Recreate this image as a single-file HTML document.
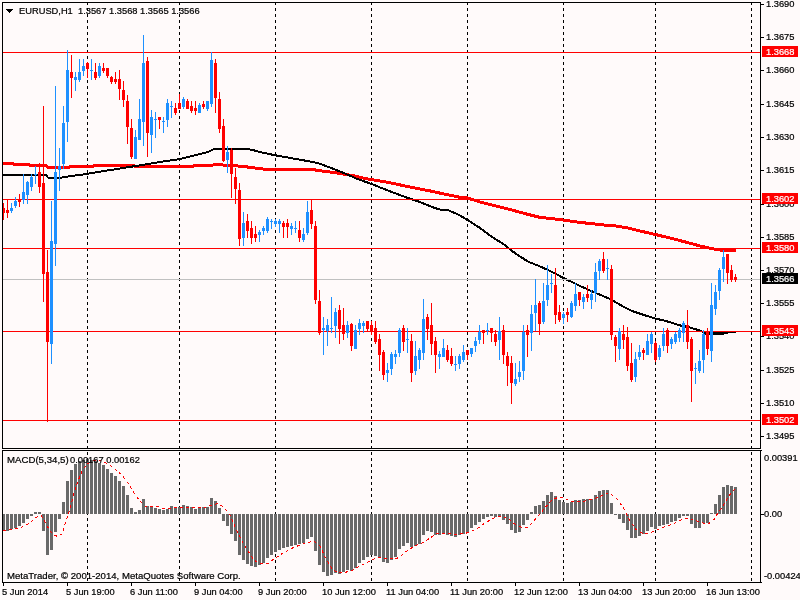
<!DOCTYPE html><html><head><meta charset="utf-8"><title>EURUSD,H1</title><style>
html,body{margin:0;padding:0;background:#fff;}body{width:800px;height:600px;overflow:hidden;}
svg{display:block;}text{font-family:"Liberation Sans",Arial,sans-serif;font-size:9.8px;fill:#000;stroke:#000;stroke-width:0.22px;}
.w{fill:#fff;stroke:#fff;}
</style></head><body>
<svg width="800" height="600" viewBox="0 0 800 600">
<rect x="0" y="0" width="800" height="600" fill="#FFFAFA"/>
<g shape-rendering="crispEdges">
<path d="M87.5 3V5M87.5 8V11M87.5 14V17M87.5 20V23M87.5 26V29M87.5 32V35M87.5 38V41M87.5 44V47M87.5 50V53M87.5 56V59M87.5 62V65M87.5 68V71M87.5 74V77M87.5 80V83M87.5 86V89M87.5 92V95M87.5 98V101M87.5 104V107M87.5 110V113M87.5 116V119M87.5 122V125M87.5 128V131M87.5 134V137M87.5 140V143M87.5 146V149M87.5 152V155M87.5 158V161M87.5 164V167M87.5 170V173M87.5 176V179M87.5 182V185M87.5 188V191M87.5 194V197M87.5 200V203M87.5 206V209M87.5 212V215M87.5 218V221M87.5 224V227M87.5 230V233M87.5 236V239M87.5 242V245M87.5 248V251M87.5 254V257M87.5 260V263M87.5 266V269M87.5 272V275M87.5 278V281M87.5 284V287M87.5 290V293M87.5 296V299M87.5 302V305M87.5 308V311M87.5 314V317M87.5 320V323M87.5 326V329M87.5 332V335M87.5 338V341M87.5 344V347M87.5 350V353M87.5 356V359M87.5 362V365M87.5 368V371M87.5 374V377M87.5 380V383M87.5 386V389M87.5 392V395M87.5 398V401M87.5 404V407M87.5 410V413M87.5 416V419M87.5 422V425M87.5 428V431M87.5 434V437M87.5 440V443M87.5 446V448M87.5 452V455M87.5 458V461M87.5 464V467M87.5 470V473M87.5 476V479M87.5 482V485M87.5 488V491M87.5 494V497M87.5 500V503M87.5 506V509M87.5 512V515M87.5 518V521M87.5 524V527M87.5 530V533M87.5 536V539M87.5 542V545M87.5 548V551M87.5 554V557M87.5 560V563M87.5 566V569M87.5 572V575M87.5 578V581" stroke="#000" stroke-width="1" fill="none"/>
<path d="M179.5 3V5M179.5 8V11M179.5 14V17M179.5 20V23M179.5 26V29M179.5 32V35M179.5 38V41M179.5 44V47M179.5 50V53M179.5 56V59M179.5 62V65M179.5 68V71M179.5 74V77M179.5 80V83M179.5 86V89M179.5 92V95M179.5 98V101M179.5 104V107M179.5 110V113M179.5 116V119M179.5 122V125M179.5 128V131M179.5 134V137M179.5 140V143M179.5 146V149M179.5 152V155M179.5 158V161M179.5 164V167M179.5 170V173M179.5 176V179M179.5 182V185M179.5 188V191M179.5 194V197M179.5 200V203M179.5 206V209M179.5 212V215M179.5 218V221M179.5 224V227M179.5 230V233M179.5 236V239M179.5 242V245M179.5 248V251M179.5 254V257M179.5 260V263M179.5 266V269M179.5 272V275M179.5 278V281M179.5 284V287M179.5 290V293M179.5 296V299M179.5 302V305M179.5 308V311M179.5 314V317M179.5 320V323M179.5 326V329M179.5 332V335M179.5 338V341M179.5 344V347M179.5 350V353M179.5 356V359M179.5 362V365M179.5 368V371M179.5 374V377M179.5 380V383M179.5 386V389M179.5 392V395M179.5 398V401M179.5 404V407M179.5 410V413M179.5 416V419M179.5 422V425M179.5 428V431M179.5 434V437M179.5 440V443M179.5 446V448M179.5 452V455M179.5 458V461M179.5 464V467M179.5 470V473M179.5 476V479M179.5 482V485M179.5 488V491M179.5 494V497M179.5 500V503M179.5 506V509M179.5 512V515M179.5 518V521M179.5 524V527M179.5 530V533M179.5 536V539M179.5 542V545M179.5 548V551M179.5 554V557M179.5 560V563M179.5 566V569M179.5 572V575M179.5 578V581" stroke="#000" stroke-width="1" fill="none"/>
<path d="M275.5 3V5M275.5 8V11M275.5 14V17M275.5 20V23M275.5 26V29M275.5 32V35M275.5 38V41M275.5 44V47M275.5 50V53M275.5 56V59M275.5 62V65M275.5 68V71M275.5 74V77M275.5 80V83M275.5 86V89M275.5 92V95M275.5 98V101M275.5 104V107M275.5 110V113M275.5 116V119M275.5 122V125M275.5 128V131M275.5 134V137M275.5 140V143M275.5 146V149M275.5 152V155M275.5 158V161M275.5 164V167M275.5 170V173M275.5 176V179M275.5 182V185M275.5 188V191M275.5 194V197M275.5 200V203M275.5 206V209M275.5 212V215M275.5 218V221M275.5 224V227M275.5 230V233M275.5 236V239M275.5 242V245M275.5 248V251M275.5 254V257M275.5 260V263M275.5 266V269M275.5 272V275M275.5 278V281M275.5 284V287M275.5 290V293M275.5 296V299M275.5 302V305M275.5 308V311M275.5 314V317M275.5 320V323M275.5 326V329M275.5 332V335M275.5 338V341M275.5 344V347M275.5 350V353M275.5 356V359M275.5 362V365M275.5 368V371M275.5 374V377M275.5 380V383M275.5 386V389M275.5 392V395M275.5 398V401M275.5 404V407M275.5 410V413M275.5 416V419M275.5 422V425M275.5 428V431M275.5 434V437M275.5 440V443M275.5 446V448M275.5 452V455M275.5 458V461M275.5 464V467M275.5 470V473M275.5 476V479M275.5 482V485M275.5 488V491M275.5 494V497M275.5 500V503M275.5 506V509M275.5 512V515M275.5 518V521M275.5 524V527M275.5 530V533M275.5 536V539M275.5 542V545M275.5 548V551M275.5 554V557M275.5 560V563M275.5 566V569M275.5 572V575M275.5 578V581" stroke="#000" stroke-width="1" fill="none"/>
<path d="M371.5 3V5M371.5 8V11M371.5 14V17M371.5 20V23M371.5 26V29M371.5 32V35M371.5 38V41M371.5 44V47M371.5 50V53M371.5 56V59M371.5 62V65M371.5 68V71M371.5 74V77M371.5 80V83M371.5 86V89M371.5 92V95M371.5 98V101M371.5 104V107M371.5 110V113M371.5 116V119M371.5 122V125M371.5 128V131M371.5 134V137M371.5 140V143M371.5 146V149M371.5 152V155M371.5 158V161M371.5 164V167M371.5 170V173M371.5 176V179M371.5 182V185M371.5 188V191M371.5 194V197M371.5 200V203M371.5 206V209M371.5 212V215M371.5 218V221M371.5 224V227M371.5 230V233M371.5 236V239M371.5 242V245M371.5 248V251M371.5 254V257M371.5 260V263M371.5 266V269M371.5 272V275M371.5 278V281M371.5 284V287M371.5 290V293M371.5 296V299M371.5 302V305M371.5 308V311M371.5 314V317M371.5 320V323M371.5 326V329M371.5 332V335M371.5 338V341M371.5 344V347M371.5 350V353M371.5 356V359M371.5 362V365M371.5 368V371M371.5 374V377M371.5 380V383M371.5 386V389M371.5 392V395M371.5 398V401M371.5 404V407M371.5 410V413M371.5 416V419M371.5 422V425M371.5 428V431M371.5 434V437M371.5 440V443M371.5 446V448M371.5 452V455M371.5 458V461M371.5 464V467M371.5 470V473M371.5 476V479M371.5 482V485M371.5 488V491M371.5 494V497M371.5 500V503M371.5 506V509M371.5 512V515M371.5 518V521M371.5 524V527M371.5 530V533M371.5 536V539M371.5 542V545M371.5 548V551M371.5 554V557M371.5 560V563M371.5 566V569M371.5 572V575M371.5 578V581" stroke="#000" stroke-width="1" fill="none"/>
<path d="M467.5 3V5M467.5 8V11M467.5 14V17M467.5 20V23M467.5 26V29M467.5 32V35M467.5 38V41M467.5 44V47M467.5 50V53M467.5 56V59M467.5 62V65M467.5 68V71M467.5 74V77M467.5 80V83M467.5 86V89M467.5 92V95M467.5 98V101M467.5 104V107M467.5 110V113M467.5 116V119M467.5 122V125M467.5 128V131M467.5 134V137M467.5 140V143M467.5 146V149M467.5 152V155M467.5 158V161M467.5 164V167M467.5 170V173M467.5 176V179M467.5 182V185M467.5 188V191M467.5 194V197M467.5 200V203M467.5 206V209M467.5 212V215M467.5 218V221M467.5 224V227M467.5 230V233M467.5 236V239M467.5 242V245M467.5 248V251M467.5 254V257M467.5 260V263M467.5 266V269M467.5 272V275M467.5 278V281M467.5 284V287M467.5 290V293M467.5 296V299M467.5 302V305M467.5 308V311M467.5 314V317M467.5 320V323M467.5 326V329M467.5 332V335M467.5 338V341M467.5 344V347M467.5 350V353M467.5 356V359M467.5 362V365M467.5 368V371M467.5 374V377M467.5 380V383M467.5 386V389M467.5 392V395M467.5 398V401M467.5 404V407M467.5 410V413M467.5 416V419M467.5 422V425M467.5 428V431M467.5 434V437M467.5 440V443M467.5 446V448M467.5 452V455M467.5 458V461M467.5 464V467M467.5 470V473M467.5 476V479M467.5 482V485M467.5 488V491M467.5 494V497M467.5 500V503M467.5 506V509M467.5 512V515M467.5 518V521M467.5 524V527M467.5 530V533M467.5 536V539M467.5 542V545M467.5 548V551M467.5 554V557M467.5 560V563M467.5 566V569M467.5 572V575M467.5 578V581" stroke="#000" stroke-width="1" fill="none"/>
<path d="M563.5 3V5M563.5 8V11M563.5 14V17M563.5 20V23M563.5 26V29M563.5 32V35M563.5 38V41M563.5 44V47M563.5 50V53M563.5 56V59M563.5 62V65M563.5 68V71M563.5 74V77M563.5 80V83M563.5 86V89M563.5 92V95M563.5 98V101M563.5 104V107M563.5 110V113M563.5 116V119M563.5 122V125M563.5 128V131M563.5 134V137M563.5 140V143M563.5 146V149M563.5 152V155M563.5 158V161M563.5 164V167M563.5 170V173M563.5 176V179M563.5 182V185M563.5 188V191M563.5 194V197M563.5 200V203M563.5 206V209M563.5 212V215M563.5 218V221M563.5 224V227M563.5 230V233M563.5 236V239M563.5 242V245M563.5 248V251M563.5 254V257M563.5 260V263M563.5 266V269M563.5 272V275M563.5 278V281M563.5 284V287M563.5 290V293M563.5 296V299M563.5 302V305M563.5 308V311M563.5 314V317M563.5 320V323M563.5 326V329M563.5 332V335M563.5 338V341M563.5 344V347M563.5 350V353M563.5 356V359M563.5 362V365M563.5 368V371M563.5 374V377M563.5 380V383M563.5 386V389M563.5 392V395M563.5 398V401M563.5 404V407M563.5 410V413M563.5 416V419M563.5 422V425M563.5 428V431M563.5 434V437M563.5 440V443M563.5 446V448M563.5 452V455M563.5 458V461M563.5 464V467M563.5 470V473M563.5 476V479M563.5 482V485M563.5 488V491M563.5 494V497M563.5 500V503M563.5 506V509M563.5 512V515M563.5 518V521M563.5 524V527M563.5 530V533M563.5 536V539M563.5 542V545M563.5 548V551M563.5 554V557M563.5 560V563M563.5 566V569M563.5 572V575M563.5 578V581" stroke="#000" stroke-width="1" fill="none"/>
<path d="M655.5 3V5M655.5 8V11M655.5 14V17M655.5 20V23M655.5 26V29M655.5 32V35M655.5 38V41M655.5 44V47M655.5 50V53M655.5 56V59M655.5 62V65M655.5 68V71M655.5 74V77M655.5 80V83M655.5 86V89M655.5 92V95M655.5 98V101M655.5 104V107M655.5 110V113M655.5 116V119M655.5 122V125M655.5 128V131M655.5 134V137M655.5 140V143M655.5 146V149M655.5 152V155M655.5 158V161M655.5 164V167M655.5 170V173M655.5 176V179M655.5 182V185M655.5 188V191M655.5 194V197M655.5 200V203M655.5 206V209M655.5 212V215M655.5 218V221M655.5 224V227M655.5 230V233M655.5 236V239M655.5 242V245M655.5 248V251M655.5 254V257M655.5 260V263M655.5 266V269M655.5 272V275M655.5 278V281M655.5 284V287M655.5 290V293M655.5 296V299M655.5 302V305M655.5 308V311M655.5 314V317M655.5 320V323M655.5 326V329M655.5 332V335M655.5 338V341M655.5 344V347M655.5 350V353M655.5 356V359M655.5 362V365M655.5 368V371M655.5 374V377M655.5 380V383M655.5 386V389M655.5 392V395M655.5 398V401M655.5 404V407M655.5 410V413M655.5 416V419M655.5 422V425M655.5 428V431M655.5 434V437M655.5 440V443M655.5 446V448M655.5 452V455M655.5 458V461M655.5 464V467M655.5 470V473M655.5 476V479M655.5 482V485M655.5 488V491M655.5 494V497M655.5 500V503M655.5 506V509M655.5 512V515M655.5 518V521M655.5 524V527M655.5 530V533M655.5 536V539M655.5 542V545M655.5 548V551M655.5 554V557M655.5 560V563M655.5 566V569M655.5 572V575M655.5 578V581" stroke="#000" stroke-width="1" fill="none"/>
<path d="M751.5 3V5M751.5 8V11M751.5 14V17M751.5 20V23M751.5 26V29M751.5 32V35M751.5 38V41M751.5 44V47M751.5 50V53M751.5 56V59M751.5 62V65M751.5 68V71M751.5 74V77M751.5 80V83M751.5 86V89M751.5 92V95M751.5 98V101M751.5 104V107M751.5 110V113M751.5 116V119M751.5 122V125M751.5 128V131M751.5 134V137M751.5 140V143M751.5 146V149M751.5 152V155M751.5 158V161M751.5 164V167M751.5 170V173M751.5 176V179M751.5 182V185M751.5 188V191M751.5 194V197M751.5 200V203M751.5 206V209M751.5 212V215M751.5 218V221M751.5 224V227M751.5 230V233M751.5 236V239M751.5 242V245M751.5 248V251M751.5 254V257M751.5 260V263M751.5 266V269M751.5 272V275M751.5 278V281M751.5 284V287M751.5 290V293M751.5 296V299M751.5 302V305M751.5 308V311M751.5 314V317M751.5 320V323M751.5 326V329M751.5 332V335M751.5 338V341M751.5 344V347M751.5 350V353M751.5 356V359M751.5 362V365M751.5 368V371M751.5 374V377M751.5 380V383M751.5 386V389M751.5 392V395M751.5 398V401M751.5 404V407M751.5 410V413M751.5 416V419M751.5 422V425M751.5 428V431M751.5 434V437M751.5 440V443M751.5 446V448M751.5 452V455M751.5 458V461M751.5 464V467M751.5 470V473M751.5 476V479M751.5 482V485M751.5 488V491M751.5 494V497M751.5 500V503M751.5 506V509M751.5 512V515M751.5 518V521M751.5 524V527M751.5 530V533M751.5 536V539M751.5 542V545M751.5 548V551M751.5 554V557M751.5 560V563M751.5 566V569M751.5 572V575M751.5 578V581" stroke="#000" stroke-width="1" fill="none"/>
</g>
<polyline points="3,163.5 13,163.5 14,164.5 29,164.5 30,165.5 46,165.5 48,167.5 69,167.5 70,166.5 93,166.5 94,165.5 134,165.5 135,166.5 193,166.5 194,165.5 212,165.5 214,164.5 222,164.5 224,165.5 237,165.5 239,166.5 245,166.5 250,167.5 260,168.5 266,169.5 313,169.5 318,170.5 326,171.5 334,172.5 340,173.5 347,174.6 355,176 360,177.5 371.6,179.6 384,181.6 396,184 408,186.6 420,189 432,191.3 444,194 460,197.3 467.6,198 480,202 496,206 512,210 528,214.4 540,217.4 552,218.6 563,220 580,222.4 604,225 612,225.4 626,227.6 640,231 655.6,234.6 670,238 684,241.6 700,246 712,248.6 720,250 736,250" fill="none" stroke="#f00" stroke-width="3" stroke-linejoin="round" shape-rendering="crispEdges"/>
<polyline points="3,175 46,175 48,177.5 62,177.5 63,176.5 68,176.5 70,176 80,175 100,171.7 120,168.5 140,165.3 160,162 180,159 195,155.25 208,152 213,149.5 217,148.5 246,148.5 255,150.6 260,152 275,155.25 290,157.9 305,160.6 318,163.1 330,167.5 345,173.5 356,178.4 371.6,184 384,189 396,193.6 408,198 420,202 432,207 440,209.6 448,210.2 456,213.6 460,215.5 467.6,220 480,228 492,237 504,244.4 512,251 520,256.4 528,261.6 540,266.4 548,270 552,272 563.6,278 580,286 596,293 610,299 624,307 632,311 644,315 655.6,318.6 666,321 680,325.4 688,327 693,328.5 700,330.5 705,333 723,333.5 728,332.5 736,332" fill="none" stroke="#000" stroke-width="2" stroke-linejoin="round" shape-rendering="crispEdges"/>
<rect x="704" y="332" width="20" height="3" fill="#000" shape-rendering="crispEdges"/>
<g shape-rendering="crispEdges">
<rect x="3" y="52" width="757" height="1" fill="#f00"/>
<rect x="3" y="199" width="757" height="1" fill="#f00"/>
<rect x="3" y="248" width="757" height="1" fill="#f00"/>
<rect x="3" y="279" width="757" height="1" fill="#c0c0c0"/>
<rect x="3" y="331" width="757" height="1" fill="#f00"/>
<rect x="3" y="420" width="757" height="1" fill="#f00"/>
<rect x="3" y="203" width="1" height="17" fill="#f00"/><rect x="2" y="208" width="3" height="5" fill="#f00"/>
<rect x="7" y="199" width="1" height="19" fill="#f00"/><rect x="6" y="210" width="3" height="3" fill="#f00"/>
<rect x="11" y="203" width="1" height="10" fill="#1e90ff"/><rect x="10" y="208" width="3" height="3" fill="#1e90ff"/>
<rect x="15" y="197" width="1" height="11" fill="#1e90ff"/><rect x="14" y="201" width="3" height="5" fill="#1e90ff"/>
<rect x="19" y="194" width="1" height="13" fill="#f00"/><rect x="18" y="199" width="3" height="3" fill="#f00"/>
<rect x="23" y="174" width="1" height="30" fill="#1e90ff"/><rect x="22" y="192" width="3" height="8" fill="#1e90ff"/>
<rect x="27" y="181" width="1" height="23" fill="#1e90ff"/><rect x="26" y="182" width="3" height="13" fill="#1e90ff"/>
<rect x="31" y="174" width="1" height="17" fill="#1e90ff"/><rect x="30" y="177" width="3" height="10" fill="#1e90ff"/>
<rect x="35" y="166" width="1" height="18" fill="#1e90ff"/><rect x="34" y="174" width="3" height="1" fill="#1e90ff"/>
<rect x="39" y="163" width="1" height="30" fill="#f00"/><rect x="38" y="172" width="3" height="15" fill="#f00"/>
<rect x="43" y="106" width="1" height="196" fill="#f00"/><rect x="42" y="183" width="3" height="91" fill="#f00"/>
<rect x="47" y="250" width="1" height="172" fill="#f00"/><rect x="46" y="272" width="3" height="70" fill="#f00"/>
<rect x="51" y="201" width="1" height="163" fill="#1e90ff"/><rect x="50" y="241" width="3" height="103" fill="#1e90ff"/>
<rect x="55" y="86" width="1" height="180" fill="#1e90ff"/><rect x="54" y="172" width="3" height="72" fill="#1e90ff"/>
<rect x="59" y="148" width="1" height="43" fill="#1e90ff"/><rect x="58" y="166" width="3" height="4" fill="#1e90ff"/>
<rect x="63" y="106" width="1" height="63" fill="#1e90ff"/><rect x="62" y="123" width="3" height="41" fill="#1e90ff"/>
<rect x="67" y="50" width="1" height="92" fill="#1e90ff"/><rect x="66" y="70" width="3" height="52" fill="#1e90ff"/>
<rect x="71" y="55" width="1" height="43" fill="#f00"/><rect x="70" y="72" width="3" height="6" fill="#f00"/>
<rect x="75" y="72" width="1" height="19" fill="#1e90ff"/><rect x="74" y="77" width="3" height="3" fill="#1e90ff"/>
<rect x="79" y="59" width="1" height="23" fill="#1e90ff"/><rect x="78" y="72" width="3" height="8" fill="#1e90ff"/>
<rect x="83" y="59" width="1" height="17" fill="#1e90ff"/><rect x="82" y="66" width="3" height="5" fill="#1e90ff"/>
<rect x="87" y="62" width="1" height="16" fill="#f00"/><rect x="86" y="63" width="3" height="6" fill="#f00"/>
<rect x="91" y="59" width="1" height="21" fill="#1e90ff"/><rect x="90" y="70" width="3" height="1" fill="#1e90ff"/>
<rect x="95" y="63" width="1" height="17" fill="#f00"/><rect x="94" y="72" width="3" height="6" fill="#f00"/>
<rect x="99" y="63" width="1" height="15" fill="#1e90ff"/><rect x="98" y="66" width="3" height="10" fill="#1e90ff"/>
<rect x="103" y="63" width="1" height="10" fill="#f00"/><rect x="102" y="68" width="3" height="3" fill="#f00"/>
<rect x="107" y="68" width="1" height="10" fill="#f00"/><rect x="106" y="68" width="3" height="8" fill="#f00"/>
<rect x="111" y="76" width="1" height="8" fill="#f00"/><rect x="110" y="77" width="3" height="5" fill="#f00"/>
<rect x="115" y="72" width="1" height="12" fill="#f00"/><rect x="114" y="79" width="3" height="3" fill="#f00"/>
<rect x="119" y="70" width="1" height="30" fill="#f00"/><rect x="118" y="79" width="3" height="10" fill="#f00"/>
<rect x="123" y="81" width="1" height="26" fill="#f00"/><rect x="122" y="90" width="3" height="10" fill="#f00"/>
<rect x="127" y="95" width="1" height="49" fill="#f00"/><rect x="126" y="101" width="3" height="26" fill="#f00"/>
<rect x="131" y="119" width="1" height="40" fill="#f00"/><rect x="130" y="128" width="3" height="29" fill="#f00"/>
<rect x="135" y="130" width="1" height="29" fill="#1e90ff"/><rect x="134" y="137" width="3" height="22" fill="#1e90ff"/>
<rect x="139" y="99" width="1" height="41" fill="#1e90ff"/><rect x="138" y="119" width="3" height="21" fill="#1e90ff"/>
<rect x="143" y="35" width="1" height="111" fill="#1e90ff"/><rect x="142" y="63" width="3" height="59" fill="#1e90ff"/>
<rect x="147" y="57" width="1" height="100" fill="#f00"/><rect x="146" y="61" width="3" height="72" fill="#f00"/>
<rect x="151" y="110" width="1" height="43" fill="#1e90ff"/><rect x="150" y="117" width="3" height="18" fill="#1e90ff"/>
<rect x="155" y="112" width="1" height="26" fill="#1e90ff"/><rect x="154" y="119" width="3" height="1" fill="#1e90ff"/>
<rect x="159" y="117" width="1" height="12" fill="#f00"/><rect x="158" y="117" width="3" height="3" fill="#f00"/>
<rect x="163" y="117" width="1" height="16" fill="#1e90ff"/><rect x="162" y="121" width="3" height="1" fill="#1e90ff"/>
<rect x="167" y="99" width="1" height="28" fill="#1e90ff"/><rect x="166" y="103" width="3" height="17" fill="#1e90ff"/>
<rect x="171" y="101" width="1" height="17" fill="#1e90ff"/><rect x="170" y="106" width="3" height="1" fill="#1e90ff"/>
<rect x="175" y="103" width="1" height="12" fill="#f00"/><rect x="174" y="108" width="3" height="5" fill="#f00"/>
<rect x="179" y="94" width="1" height="15" fill="#f00"/><rect x="178" y="103" width="3" height="6" fill="#f00"/>
<rect x="183" y="97" width="1" height="12" fill="#1e90ff"/><rect x="182" y="99" width="3" height="8" fill="#1e90ff"/>
<rect x="187" y="99" width="1" height="10" fill="#f00"/><rect x="186" y="101" width="3" height="8" fill="#f00"/>
<rect x="191" y="101" width="1" height="12" fill="#f00"/><rect x="190" y="106" width="3" height="5" fill="#f00"/>
<rect x="195" y="101" width="1" height="14" fill="#f00"/><rect x="194" y="108" width="3" height="3" fill="#f00"/>
<rect x="199" y="103" width="1" height="10" fill="#1e90ff"/><rect x="198" y="105" width="3" height="8" fill="#1e90ff"/>
<rect x="203" y="101" width="1" height="8" fill="#f00"/><rect x="202" y="104" width="3" height="3" fill="#f00"/>
<rect x="207" y="101" width="1" height="10" fill="#1e90ff"/><rect x="206" y="101" width="3" height="8" fill="#1e90ff"/>
<rect x="211" y="52" width="1" height="55" fill="#1e90ff"/><rect x="210" y="60" width="3" height="44" fill="#1e90ff"/>
<rect x="215" y="59" width="1" height="54" fill="#f00"/><rect x="214" y="63" width="3" height="35" fill="#f00"/>
<rect x="219" y="92" width="1" height="41" fill="#f00"/><rect x="218" y="99" width="3" height="30" fill="#f00"/>
<rect x="223" y="119" width="1" height="43" fill="#f00"/><rect x="222" y="126" width="3" height="35" fill="#f00"/>
<rect x="227" y="146" width="1" height="27" fill="#1e90ff"/><rect x="226" y="152" width="3" height="8" fill="#1e90ff"/>
<rect x="231" y="148" width="1" height="50" fill="#f00"/><rect x="230" y="150" width="3" height="24" fill="#f00"/>
<rect x="235" y="168" width="1" height="36" fill="#f00"/><rect x="234" y="177" width="3" height="12" fill="#f00"/>
<rect x="239" y="183" width="1" height="63" fill="#f00"/><rect x="238" y="190" width="3" height="49" fill="#f00"/>
<rect x="243" y="212" width="1" height="34" fill="#1e90ff"/><rect x="242" y="223" width="3" height="15" fill="#1e90ff"/>
<rect x="247" y="214" width="1" height="24" fill="#f00"/><rect x="246" y="221" width="3" height="10" fill="#f00"/>
<rect x="251" y="221" width="1" height="23" fill="#f00"/><rect x="250" y="228" width="3" height="10" fill="#f00"/>
<rect x="255" y="226" width="1" height="16" fill="#f00"/><rect x="254" y="234" width="3" height="4" fill="#f00"/>
<rect x="259" y="230" width="1" height="12" fill="#1e90ff"/><rect x="258" y="232" width="3" height="3" fill="#1e90ff"/>
<rect x="263" y="226" width="1" height="9" fill="#1e90ff"/><rect x="262" y="228" width="3" height="3" fill="#1e90ff"/>
<rect x="267" y="217" width="1" height="16" fill="#1e90ff"/><rect x="266" y="219" width="3" height="12" fill="#1e90ff"/>
<rect x="271" y="219" width="1" height="10" fill="#1e90ff"/><rect x="270" y="221" width="3" height="1" fill="#1e90ff"/>
<rect x="275" y="219" width="1" height="8" fill="#1e90ff"/><rect x="274" y="221" width="3" height="3" fill="#1e90ff"/>
<rect x="279" y="219" width="1" height="14" fill="#1e90ff"/><rect x="278" y="221" width="3" height="3" fill="#1e90ff"/>
<rect x="283" y="221" width="1" height="17" fill="#f00"/><rect x="282" y="223" width="3" height="4" fill="#f00"/>
<rect x="287" y="219" width="1" height="19" fill="#f00"/><rect x="286" y="223" width="3" height="4" fill="#f00"/>
<rect x="291" y="223" width="1" height="12" fill="#1e90ff"/><rect x="290" y="226" width="3" height="3" fill="#1e90ff"/>
<rect x="295" y="221" width="1" height="12" fill="#1e90ff"/><rect x="294" y="228" width="3" height="1" fill="#1e90ff"/>
<rect x="299" y="221" width="1" height="21" fill="#f00"/><rect x="298" y="230" width="3" height="8" fill="#f00"/>
<rect x="303" y="228" width="1" height="14" fill="#1e90ff"/><rect x="302" y="234" width="3" height="6" fill="#1e90ff"/>
<rect x="307" y="201" width="1" height="34" fill="#1e90ff"/><rect x="306" y="212" width="3" height="21" fill="#1e90ff"/>
<rect x="311" y="199" width="1" height="30" fill="#f00"/><rect x="310" y="210" width="3" height="14" fill="#f00"/>
<rect x="315" y="221" width="1" height="83" fill="#f00"/><rect x="314" y="226" width="3" height="74" fill="#f00"/>
<rect x="319" y="290" width="1" height="45" fill="#f00"/><rect x="318" y="301" width="3" height="32" fill="#f00"/>
<rect x="323" y="317" width="1" height="38" fill="#1e90ff"/><rect x="322" y="328" width="3" height="2" fill="#1e90ff"/>
<rect x="327" y="319" width="1" height="27" fill="#1e90ff"/><rect x="326" y="325" width="3" height="6" fill="#1e90ff"/>
<rect x="331" y="297" width="1" height="36" fill="#1e90ff"/><rect x="330" y="328" width="3" height="1" fill="#1e90ff"/>
<rect x="335" y="308" width="1" height="30" fill="#1e90ff"/><rect x="334" y="312" width="3" height="14" fill="#1e90ff"/>
<rect x="339" y="305" width="1" height="39" fill="#f00"/><rect x="338" y="310" width="3" height="19" fill="#f00"/>
<rect x="343" y="308" width="1" height="32" fill="#f00"/><rect x="342" y="325" width="3" height="9" fill="#f00"/>
<rect x="347" y="321" width="1" height="17" fill="#1e90ff"/><rect x="346" y="325" width="3" height="8" fill="#1e90ff"/>
<rect x="351" y="323" width="1" height="28" fill="#f00"/><rect x="350" y="324" width="3" height="22" fill="#f00"/>
<rect x="355" y="325" width="1" height="24" fill="#1e90ff"/><rect x="354" y="330" width="3" height="19" fill="#1e90ff"/>
<rect x="359" y="319" width="1" height="16" fill="#1e90ff"/><rect x="358" y="323" width="3" height="6" fill="#1e90ff"/>
<rect x="363" y="321" width="1" height="12" fill="#1e90ff"/><rect x="362" y="323" width="3" height="3" fill="#1e90ff"/>
<rect x="367" y="321" width="1" height="11" fill="#f00"/><rect x="366" y="321" width="3" height="8" fill="#f00"/>
<rect x="371" y="321" width="1" height="14" fill="#f00"/><rect x="370" y="325" width="3" height="6" fill="#f00"/>
<rect x="375" y="321" width="1" height="23" fill="#f00"/><rect x="374" y="328" width="3" height="14" fill="#f00"/>
<rect x="379" y="334" width="1" height="37" fill="#f00"/><rect x="378" y="339" width="3" height="16" fill="#f00"/>
<rect x="383" y="350" width="1" height="30" fill="#f00"/><rect x="382" y="352" width="3" height="23" fill="#f00"/>
<rect x="387" y="363" width="1" height="19" fill="#1e90ff"/><rect x="386" y="370" width="3" height="3" fill="#1e90ff"/>
<rect x="391" y="352" width="1" height="23" fill="#1e90ff"/><rect x="390" y="354" width="3" height="15" fill="#1e90ff"/>
<rect x="395" y="350" width="1" height="14" fill="#1e90ff"/><rect x="394" y="354" width="3" height="3" fill="#1e90ff"/>
<rect x="399" y="328" width="1" height="29" fill="#1e90ff"/><rect x="398" y="330" width="3" height="23" fill="#1e90ff"/>
<rect x="403" y="325" width="1" height="26" fill="#f00"/><rect x="402" y="328" width="3" height="14" fill="#f00"/>
<rect x="407" y="328" width="1" height="25" fill="#1e90ff"/><rect x="406" y="339" width="3" height="1" fill="#1e90ff"/>
<rect x="411" y="334" width="1" height="48" fill="#f00"/><rect x="410" y="341" width="3" height="32" fill="#f00"/>
<rect x="415" y="341" width="1" height="34" fill="#1e90ff"/><rect x="414" y="356" width="3" height="15" fill="#1e90ff"/>
<rect x="419" y="348" width="1" height="21" fill="#1e90ff"/><rect x="418" y="350" width="3" height="10" fill="#1e90ff"/>
<rect x="423" y="299" width="1" height="61" fill="#1e90ff"/><rect x="422" y="319" width="3" height="34" fill="#1e90ff"/>
<rect x="427" y="314" width="1" height="26" fill="#f00"/><rect x="426" y="317" width="3" height="12" fill="#f00"/>
<rect x="431" y="303" width="1" height="52" fill="#f00"/><rect x="430" y="325" width="3" height="19" fill="#f00"/>
<rect x="435" y="337" width="1" height="36" fill="#f00"/><rect x="434" y="341" width="3" height="14" fill="#f00"/>
<rect x="439" y="351" width="1" height="18" fill="#1e90ff"/><rect x="438" y="354" width="3" height="3" fill="#1e90ff"/>
<rect x="443" y="339" width="1" height="18" fill="#1e90ff"/><rect x="442" y="348" width="3" height="9" fill="#1e90ff"/>
<rect x="447" y="345" width="1" height="17" fill="#f00"/><rect x="446" y="350" width="3" height="10" fill="#f00"/>
<rect x="451" y="348" width="1" height="18" fill="#f00"/><rect x="450" y="356" width="3" height="8" fill="#f00"/>
<rect x="455" y="356" width="1" height="15" fill="#1e90ff"/><rect x="454" y="364" width="3" height="1" fill="#1e90ff"/>
<rect x="459" y="354" width="1" height="15" fill="#1e90ff"/><rect x="458" y="356" width="3" height="8" fill="#1e90ff"/>
<rect x="463" y="345" width="1" height="17" fill="#1e90ff"/><rect x="462" y="352" width="3" height="8" fill="#1e90ff"/>
<rect x="467" y="350" width="1" height="10" fill="#f00"/><rect x="466" y="350" width="3" height="5" fill="#f00"/>
<rect x="471" y="348" width="1" height="9" fill="#1e90ff"/><rect x="470" y="348" width="3" height="6" fill="#1e90ff"/>
<rect x="475" y="337" width="1" height="15" fill="#1e90ff"/><rect x="474" y="341" width="3" height="5" fill="#1e90ff"/>
<rect x="479" y="325" width="1" height="19" fill="#1e90ff"/><rect x="478" y="332" width="3" height="8" fill="#1e90ff"/>
<rect x="483" y="330" width="1" height="14" fill="#f00"/><rect x="482" y="330" width="3" height="3" fill="#f00"/>
<rect x="487" y="323" width="1" height="12" fill="#1e90ff"/><rect x="486" y="330" width="3" height="1" fill="#1e90ff"/>
<rect x="491" y="328" width="1" height="14" fill="#f00"/><rect x="490" y="328" width="3" height="5" fill="#f00"/>
<rect x="495" y="330" width="1" height="16" fill="#f00"/><rect x="494" y="334" width="3" height="8" fill="#f00"/>
<rect x="499" y="317" width="1" height="43" fill="#1e90ff"/><rect x="498" y="331" width="3" height="9" fill="#1e90ff"/>
<rect x="503" y="325" width="1" height="39" fill="#f00"/><rect x="502" y="330" width="3" height="25" fill="#f00"/>
<rect x="507" y="352" width="1" height="34" fill="#f00"/><rect x="506" y="356" width="3" height="10" fill="#f00"/>
<rect x="511" y="356" width="1" height="48" fill="#f00"/><rect x="510" y="363" width="3" height="20" fill="#f00"/>
<rect x="515" y="363" width="1" height="23" fill="#1e90ff"/><rect x="514" y="379" width="3" height="5" fill="#1e90ff"/>
<rect x="519" y="361" width="1" height="21" fill="#1e90ff"/><rect x="518" y="372" width="3" height="5" fill="#1e90ff"/>
<rect x="523" y="325" width="1" height="55" fill="#1e90ff"/><rect x="522" y="332" width="3" height="39" fill="#1e90ff"/>
<rect x="527" y="325" width="1" height="32" fill="#f00"/><rect x="526" y="330" width="3" height="5" fill="#f00"/>
<rect x="531" y="305" width="1" height="46" fill="#1e90ff"/><rect x="530" y="314" width="3" height="19" fill="#1e90ff"/>
<rect x="535" y="279" width="1" height="52" fill="#1e90ff"/><rect x="534" y="305" width="3" height="8" fill="#1e90ff"/>
<rect x="539" y="301" width="1" height="34" fill="#f00"/><rect x="538" y="303" width="3" height="21" fill="#f00"/>
<rect x="543" y="283" width="1" height="41" fill="#1e90ff"/><rect x="542" y="301" width="3" height="21" fill="#1e90ff"/>
<rect x="547" y="265" width="1" height="41" fill="#1e90ff"/><rect x="546" y="285" width="3" height="15" fill="#1e90ff"/>
<rect x="551" y="274" width="1" height="19" fill="#1e90ff"/><rect x="550" y="283" width="3" height="1" fill="#1e90ff"/>
<rect x="555" y="268" width="1" height="56" fill="#f00"/><rect x="554" y="285" width="3" height="30" fill="#f00"/>
<rect x="559" y="305" width="1" height="17" fill="#f00"/><rect x="558" y="312" width="3" height="8" fill="#f00"/>
<rect x="563" y="312" width="1" height="12" fill="#1e90ff"/><rect x="562" y="314" width="3" height="4" fill="#1e90ff"/>
<rect x="567" y="308" width="1" height="14" fill="#f00"/><rect x="566" y="312" width="3" height="3" fill="#f00"/>
<rect x="571" y="301" width="1" height="17" fill="#1e90ff"/><rect x="570" y="303" width="3" height="14" fill="#1e90ff"/>
<rect x="575" y="283" width="1" height="28" fill="#1e90ff"/><rect x="574" y="294" width="3" height="12" fill="#1e90ff"/>
<rect x="579" y="292" width="1" height="14" fill="#f00"/><rect x="578" y="292" width="3" height="8" fill="#f00"/>
<rect x="583" y="294" width="1" height="15" fill="#1e90ff"/><rect x="582" y="297" width="3" height="5" fill="#1e90ff"/>
<rect x="587" y="285" width="1" height="17" fill="#f00"/><rect x="586" y="294" width="3" height="4" fill="#f00"/>
<rect x="591" y="290" width="1" height="19" fill="#1e90ff"/><rect x="590" y="294" width="3" height="6" fill="#1e90ff"/>
<rect x="595" y="263" width="1" height="39" fill="#1e90ff"/><rect x="594" y="272" width="3" height="21" fill="#1e90ff"/>
<rect x="599" y="259" width="1" height="21" fill="#1e90ff"/><rect x="598" y="261" width="3" height="10" fill="#1e90ff"/>
<rect x="603" y="252" width="1" height="21" fill="#f00"/><rect x="602" y="259" width="3" height="12" fill="#f00"/>
<rect x="607" y="259" width="1" height="21" fill="#1e90ff"/><rect x="606" y="268" width="3" height="1" fill="#1e90ff"/>
<rect x="611" y="265" width="1" height="75" fill="#f00"/><rect x="610" y="269" width="3" height="66" fill="#f00"/>
<rect x="615" y="335" width="1" height="27" fill="#f00"/><rect x="614" y="337" width="3" height="9" fill="#f00"/>
<rect x="619" y="328" width="1" height="32" fill="#1e90ff"/><rect x="618" y="331" width="3" height="18" fill="#1e90ff"/>
<rect x="623" y="325" width="1" height="24" fill="#f00"/><rect x="622" y="334" width="3" height="6" fill="#f00"/>
<rect x="627" y="327" width="1" height="44" fill="#f00"/><rect x="626" y="337" width="3" height="29" fill="#f00"/>
<rect x="631" y="343" width="1" height="39" fill="#f00"/><rect x="630" y="363" width="3" height="17" fill="#f00"/>
<rect x="635" y="352" width="1" height="30" fill="#1e90ff"/><rect x="634" y="359" width="3" height="18" fill="#1e90ff"/>
<rect x="639" y="345" width="1" height="15" fill="#1e90ff"/><rect x="638" y="352" width="3" height="5" fill="#1e90ff"/>
<rect x="643" y="348" width="1" height="12" fill="#f00"/><rect x="642" y="350" width="3" height="3" fill="#f00"/>
<rect x="647" y="334" width="1" height="21" fill="#1e90ff"/><rect x="646" y="341" width="3" height="14" fill="#1e90ff"/>
<rect x="651" y="332" width="1" height="21" fill="#1e90ff"/><rect x="650" y="334" width="3" height="10" fill="#1e90ff"/>
<rect x="655" y="341" width="1" height="21" fill="#f00"/><rect x="654" y="343" width="3" height="17" fill="#f00"/>
<rect x="659" y="345" width="1" height="15" fill="#1e90ff"/><rect x="658" y="348" width="3" height="9" fill="#1e90ff"/>
<rect x="663" y="328" width="1" height="23" fill="#1e90ff"/><rect x="662" y="334" width="3" height="12" fill="#1e90ff"/>
<rect x="667" y="328" width="1" height="25" fill="#f00"/><rect x="666" y="330" width="3" height="16" fill="#f00"/>
<rect x="671" y="337" width="1" height="12" fill="#1e90ff"/><rect x="670" y="339" width="3" height="5" fill="#1e90ff"/>
<rect x="675" y="332" width="1" height="12" fill="#1e90ff"/><rect x="674" y="334" width="3" height="8" fill="#1e90ff"/>
<rect x="679" y="328" width="1" height="14" fill="#1e90ff"/><rect x="678" y="330" width="3" height="8" fill="#1e90ff"/>
<rect x="683" y="321" width="1" height="21" fill="#1e90ff"/><rect x="682" y="323" width="3" height="10" fill="#1e90ff"/>
<rect x="687" y="310" width="1" height="39" fill="#f00"/><rect x="686" y="325" width="3" height="17" fill="#f00"/>
<rect x="691" y="337" width="1" height="65" fill="#f00"/><rect x="690" y="339" width="3" height="32" fill="#f00"/>
<rect x="695" y="363" width="1" height="21" fill="#1e90ff"/><rect x="694" y="368" width="3" height="1" fill="#1e90ff"/>
<rect x="699" y="350" width="1" height="23" fill="#1e90ff"/><rect x="698" y="361" width="3" height="10" fill="#1e90ff"/>
<rect x="703" y="330" width="1" height="43" fill="#1e90ff"/><rect x="702" y="334" width="3" height="26" fill="#1e90ff"/>
<rect x="707" y="328" width="1" height="27" fill="#f00"/><rect x="706" y="332" width="3" height="17" fill="#f00"/>
<rect x="711" y="283" width="1" height="79" fill="#1e90ff"/><rect x="710" y="305" width="3" height="46" fill="#1e90ff"/>
<rect x="715" y="285" width="1" height="30" fill="#1e90ff"/><rect x="714" y="292" width="3" height="17" fill="#1e90ff"/>
<rect x="719" y="268" width="1" height="32" fill="#1e90ff"/><rect x="718" y="270" width="3" height="21" fill="#1e90ff"/>
<rect x="723" y="250" width="1" height="32" fill="#1e90ff"/><rect x="722" y="257" width="3" height="12" fill="#1e90ff"/>
<rect x="727" y="254" width="1" height="30" fill="#f00"/><rect x="726" y="254" width="3" height="19" fill="#f00"/>
<rect x="731" y="265" width="1" height="17" fill="#f00"/><rect x="730" y="270" width="3" height="10" fill="#f00"/>
<rect x="735" y="274" width="1" height="8" fill="#f00"/><rect x="734" y="277" width="3" height="3" fill="#f00"/>
<rect x="2" y="514" width="3" height="17" fill="#696969"/>
<rect x="6" y="514" width="3" height="17" fill="#696969"/>
<rect x="10" y="514" width="3" height="15" fill="#696969"/>
<rect x="14" y="514" width="3" height="14" fill="#696969"/>
<rect x="18" y="514" width="3" height="12" fill="#696969"/>
<rect x="22" y="514" width="3" height="9" fill="#696969"/>
<rect x="26" y="514" width="3" height="5" fill="#696969"/>
<rect x="30" y="514" width="3" height="2" fill="#696969"/>
<rect x="34" y="512" width="3" height="2" fill="#696969"/>
<rect x="38" y="512" width="3" height="2" fill="#696969"/>
<rect x="42" y="514" width="3" height="17" fill="#696969"/>
<rect x="46" y="514" width="3" height="41" fill="#696969"/>
<rect x="50" y="514" width="3" height="36" fill="#696969"/>
<rect x="54" y="514" width="3" height="18" fill="#696969"/>
<rect x="58" y="514" width="3" height="5" fill="#696969"/>
<rect x="62" y="502" width="3" height="12" fill="#696969"/>
<rect x="66" y="481" width="3" height="33" fill="#696969"/>
<rect x="70" y="470" width="3" height="44" fill="#696969"/>
<rect x="74" y="464" width="3" height="50" fill="#696969"/>
<rect x="78" y="461" width="3" height="53" fill="#696969"/>
<rect x="82" y="460" width="3" height="54" fill="#696969"/>
<rect x="86" y="459" width="3" height="55" fill="#696969"/>
<rect x="90" y="460" width="3" height="54" fill="#696969"/>
<rect x="94" y="461" width="3" height="53" fill="#696969"/>
<rect x="98" y="463" width="3" height="51" fill="#696969"/>
<rect x="102" y="465" width="3" height="49" fill="#696969"/>
<rect x="106" y="469" width="3" height="45" fill="#696969"/>
<rect x="110" y="473" width="3" height="41" fill="#696969"/>
<rect x="114" y="476" width="3" height="38" fill="#696969"/>
<rect x="118" y="481" width="3" height="33" fill="#696969"/>
<rect x="122" y="486" width="3" height="28" fill="#696969"/>
<rect x="126" y="495" width="3" height="19" fill="#696969"/>
<rect x="130" y="508" width="3" height="6" fill="#696969"/>
<rect x="134" y="512" width="3" height="2" fill="#696969"/>
<rect x="138" y="510" width="3" height="4" fill="#696969"/>
<rect x="142" y="499" width="3" height="15" fill="#696969"/>
<rect x="146" y="506" width="3" height="8" fill="#696969"/>
<rect x="150" y="507" width="3" height="7" fill="#696969"/>
<rect x="154" y="508" width="3" height="6" fill="#696969"/>
<rect x="158" y="509" width="3" height="5" fill="#696969"/>
<rect x="162" y="510" width="3" height="4" fill="#696969"/>
<rect x="166" y="509" width="3" height="5" fill="#696969"/>
<rect x="170" y="506" width="3" height="8" fill="#696969"/>
<rect x="174" y="507" width="3" height="7" fill="#696969"/>
<rect x="178" y="507" width="3" height="7" fill="#696969"/>
<rect x="182" y="505" width="3" height="9" fill="#696969"/>
<rect x="186" y="506" width="3" height="8" fill="#696969"/>
<rect x="190" y="507" width="3" height="7" fill="#696969"/>
<rect x="194" y="509" width="3" height="5" fill="#696969"/>
<rect x="198" y="508" width="3" height="6" fill="#696969"/>
<rect x="202" y="507" width="3" height="7" fill="#696969"/>
<rect x="206" y="507" width="3" height="7" fill="#696969"/>
<rect x="210" y="498" width="3" height="16" fill="#696969"/>
<rect x="214" y="501" width="3" height="13" fill="#696969"/>
<rect x="218" y="508" width="3" height="6" fill="#696969"/>
<rect x="222" y="514" width="3" height="7" fill="#696969"/>
<rect x="226" y="514" width="3" height="12" fill="#696969"/>
<rect x="230" y="514" width="3" height="20" fill="#696969"/>
<rect x="234" y="514" width="3" height="27" fill="#696969"/>
<rect x="238" y="514" width="3" height="41" fill="#696969"/>
<rect x="242" y="514" width="3" height="46" fill="#696969"/>
<rect x="246" y="514" width="3" height="50" fill="#696969"/>
<rect x="250" y="514" width="3" height="52" fill="#696969"/>
<rect x="254" y="514" width="3" height="53" fill="#696969"/>
<rect x="258" y="514" width="3" height="51" fill="#696969"/>
<rect x="262" y="514" width="3" height="49" fill="#696969"/>
<rect x="266" y="514" width="3" height="44" fill="#696969"/>
<rect x="270" y="514" width="3" height="41" fill="#696969"/>
<rect x="274" y="514" width="3" height="38" fill="#696969"/>
<rect x="278" y="514" width="3" height="36" fill="#696969"/>
<rect x="282" y="514" width="3" height="34" fill="#696969"/>
<rect x="286" y="514" width="3" height="33" fill="#696969"/>
<rect x="290" y="514" width="3" height="32" fill="#696969"/>
<rect x="294" y="514" width="3" height="31" fill="#696969"/>
<rect x="298" y="514" width="3" height="30" fill="#696969"/>
<rect x="302" y="514" width="3" height="29" fill="#696969"/>
<rect x="306" y="514" width="3" height="25" fill="#696969"/>
<rect x="310" y="514" width="3" height="23" fill="#696969"/>
<rect x="314" y="514" width="3" height="37" fill="#696969"/>
<rect x="318" y="514" width="3" height="51" fill="#696969"/>
<rect x="322" y="514" width="3" height="58" fill="#696969"/>
<rect x="326" y="514" width="3" height="62" fill="#696969"/>
<rect x="330" y="514" width="3" height="61" fill="#696969"/>
<rect x="334" y="514" width="3" height="59" fill="#696969"/>
<rect x="338" y="514" width="3" height="60" fill="#696969"/>
<rect x="342" y="514" width="3" height="58" fill="#696969"/>
<rect x="346" y="514" width="3" height="56" fill="#696969"/>
<rect x="350" y="514" width="3" height="57" fill="#696969"/>
<rect x="354" y="514" width="3" height="54" fill="#696969"/>
<rect x="358" y="514" width="3" height="49" fill="#696969"/>
<rect x="362" y="514" width="3" height="46" fill="#696969"/>
<rect x="366" y="514" width="3" height="43" fill="#696969"/>
<rect x="370" y="514" width="3" height="41" fill="#696969"/>
<rect x="374" y="514" width="3" height="42" fill="#696969"/>
<rect x="378" y="514" width="3" height="43" fill="#696969"/>
<rect x="382" y="514" width="3" height="48" fill="#696969"/>
<rect x="386" y="514" width="3" height="49" fill="#696969"/>
<rect x="390" y="514" width="3" height="46" fill="#696969"/>
<rect x="394" y="514" width="3" height="43" fill="#696969"/>
<rect x="398" y="514" width="3" height="35" fill="#696969"/>
<rect x="402" y="514" width="3" height="32" fill="#696969"/>
<rect x="406" y="514" width="3" height="29" fill="#696969"/>
<rect x="410" y="514" width="3" height="33" fill="#696969"/>
<rect x="414" y="514" width="3" height="32" fill="#696969"/>
<rect x="418" y="514" width="3" height="30" fill="#696969"/>
<rect x="422" y="514" width="3" height="21" fill="#696969"/>
<rect x="426" y="514" width="3" height="17" fill="#696969"/>
<rect x="430" y="514" width="3" height="18" fill="#696969"/>
<rect x="434" y="514" width="3" height="21" fill="#696969"/>
<rect x="438" y="514" width="3" height="21" fill="#696969"/>
<rect x="442" y="514" width="3" height="20" fill="#696969"/>
<rect x="446" y="514" width="3" height="21" fill="#696969"/>
<rect x="450" y="514" width="3" height="22" fill="#696969"/>
<rect x="454" y="514" width="3" height="23" fill="#696969"/>
<rect x="458" y="514" width="3" height="21" fill="#696969"/>
<rect x="462" y="514" width="3" height="20" fill="#696969"/>
<rect x="466" y="514" width="3" height="18" fill="#696969"/>
<rect x="470" y="514" width="3" height="14" fill="#696969"/>
<rect x="474" y="514" width="3" height="11" fill="#696969"/>
<rect x="478" y="514" width="3" height="8" fill="#696969"/>
<rect x="482" y="514" width="3" height="5" fill="#696969"/>
<rect x="486" y="514" width="3" height="3" fill="#696969"/>
<rect x="490" y="514" width="3" height="2" fill="#696969"/>
<rect x="494" y="514" width="3" height="3" fill="#696969"/>
<rect x="498" y="514" width="3" height="2" fill="#696969"/>
<rect x="502" y="514" width="3" height="6" fill="#696969"/>
<rect x="506" y="514" width="3" height="10" fill="#696969"/>
<rect x="510" y="514" width="3" height="16" fill="#696969"/>
<rect x="514" y="514" width="3" height="19" fill="#696969"/>
<rect x="518" y="514" width="3" height="18" fill="#696969"/>
<rect x="522" y="514" width="3" height="11" fill="#696969"/>
<rect x="526" y="514" width="3" height="6" fill="#696969"/>
<rect x="530" y="512" width="3" height="2" fill="#696969"/>
<rect x="534" y="506" width="3" height="8" fill="#696969"/>
<rect x="538" y="505" width="3" height="9" fill="#696969"/>
<rect x="542" y="501" width="3" height="13" fill="#696969"/>
<rect x="546" y="495" width="3" height="19" fill="#696969"/>
<rect x="550" y="492" width="3" height="22" fill="#696969"/>
<rect x="554" y="496" width="3" height="18" fill="#696969"/>
<rect x="558" y="500" width="3" height="14" fill="#696969"/>
<rect x="562" y="502" width="3" height="12" fill="#696969"/>
<rect x="566" y="503" width="3" height="11" fill="#696969"/>
<rect x="570" y="502" width="3" height="12" fill="#696969"/>
<rect x="574" y="500" width="3" height="14" fill="#696969"/>
<rect x="578" y="500" width="3" height="14" fill="#696969"/>
<rect x="582" y="499" width="3" height="15" fill="#696969"/>
<rect x="586" y="499" width="3" height="15" fill="#696969"/>
<rect x="590" y="499" width="3" height="15" fill="#696969"/>
<rect x="594" y="495" width="3" height="19" fill="#696969"/>
<rect x="598" y="491" width="3" height="23" fill="#696969"/>
<rect x="602" y="490" width="3" height="24" fill="#696969"/>
<rect x="606" y="490" width="3" height="24" fill="#696969"/>
<rect x="610" y="503" width="3" height="11" fill="#696969"/>
<rect x="614" y="514" width="3" height="1" fill="#696969"/>
<rect x="618" y="514" width="3" height="5" fill="#696969"/>
<rect x="622" y="514" width="3" height="9" fill="#696969"/>
<rect x="626" y="514" width="3" height="16" fill="#696969"/>
<rect x="630" y="514" width="3" height="24" fill="#696969"/>
<rect x="634" y="514" width="3" height="24" fill="#696969"/>
<rect x="638" y="514" width="3" height="22" fill="#696969"/>
<rect x="642" y="514" width="3" height="20" fill="#696969"/>
<rect x="646" y="514" width="3" height="17" fill="#696969"/>
<rect x="650" y="514" width="3" height="13" fill="#696969"/>
<rect x="654" y="514" width="3" height="15" fill="#696969"/>
<rect x="658" y="514" width="3" height="12" fill="#696969"/>
<rect x="662" y="514" width="3" height="11" fill="#696969"/>
<rect x="666" y="514" width="3" height="10" fill="#696969"/>
<rect x="670" y="514" width="3" height="8" fill="#696969"/>
<rect x="674" y="514" width="3" height="7" fill="#696969"/>
<rect x="678" y="514" width="3" height="4" fill="#696969"/>
<rect x="682" y="514" width="3" height="2" fill="#696969"/>
<rect x="686" y="514" width="3" height="2" fill="#696969"/>
<rect x="690" y="514" width="3" height="10" fill="#696969"/>
<rect x="694" y="514" width="3" height="14" fill="#696969"/>
<rect x="698" y="514" width="3" height="14" fill="#696969"/>
<rect x="702" y="514" width="3" height="9" fill="#696969"/>
<rect x="706" y="514" width="3" height="9" fill="#696969"/>
<rect x="710" y="513" width="3" height="1" fill="#696969"/>
<rect x="714" y="504" width="3" height="10" fill="#696969"/>
<rect x="718" y="495" width="3" height="19" fill="#696969"/>
<rect x="722" y="487" width="3" height="27" fill="#696969"/>
<rect x="726" y="485" width="3" height="29" fill="#696969"/>
<rect x="730" y="486" width="3" height="28" fill="#696969"/>
<rect x="734" y="487" width="3" height="27" fill="#696969"/>
</g>
<polyline points="3,530.6 12,529.5 20,528 30,523 36,517.4 41,515.4 45,522 50,531 55,535.6 58,536.4 62,534 65,524 70,509 74,493 78,481 82,471 87,464 92,461 98,460 104,462 110,465 116,470 122,475 128,483 134,493 140,501 145,506 150,507 160,506.8 164,509 175,507.4 190,507 205,507.4 212,505 218,503.6 224,507 230,515 236,529 242,541 248,551 254,560 260,564 268,563.4 274,559 280,555 290,549 300,545 310,542 314,541.4 320,546 326,559 332,569 338,573 345,572.4 352,570.6 360,566 370,561 378,557 385,558.6 395,559 400,557 408,550 415,546 422,543 430,538 437,533.6 445,533 455,534.4 465,533.6 472,531 480,527 483,524.4 490,520 497,516.6 503,516.6 510,520 516,525 522,527.4 528,527 533,522 540,514 546,506.6 552,500 558,497.4 563,497.4 570,501 578,501.4 585,501 592,499.4 600,496.6 607,493 612,495 618,500 624,509 630,521 636,529.4 640,532 644,534 650,532.5 655,531 660,528.5 672,524.4 680,520.5 685,518.5 690,518.5 697,521 703,523 709,523.5 714,519.4 718,513 722,507.5 726,500.6 730,494.4 734.5,489.4" fill="none" stroke="#f00" stroke-width="1" stroke-dasharray="3,3" shape-rendering="crispEdges"/>
<g shape-rendering="crispEdges">
<rect x="2" y="2" width="759" height="1" fill="#000"/><rect x="2" y="448" width="759" height="1" fill="#000"/>
<rect x="2" y="2" width="1" height="447" fill="#000"/><rect x="760" y="2" width="1" height="447" fill="#000"/>
<rect x="2" y="450" width="759" height="1" fill="#000"/><rect x="2" y="582" width="759" height="1" fill="#000"/>
<rect x="2" y="450" width="1" height="133" fill="#000"/><rect x="760" y="450" width="1" height="133" fill="#000"/>
<rect x="761" y="4" width="3" height="1" fill="#000"/>
<rect x="761" y="37" width="3" height="1" fill="#000"/>
<rect x="761" y="70" width="3" height="1" fill="#000"/>
<rect x="761" y="104" width="3" height="1" fill="#000"/>
<rect x="761" y="137" width="3" height="1" fill="#000"/>
<rect x="761" y="170" width="3" height="1" fill="#000"/>
<rect x="761" y="204" width="3" height="1" fill="#000"/>
<rect x="761" y="237" width="3" height="1" fill="#000"/>
<rect x="761" y="270" width="3" height="1" fill="#000"/>
<rect x="761" y="303" width="3" height="1" fill="#000"/>
<rect x="761" y="336" width="3" height="1" fill="#000"/>
<rect x="761" y="370" width="3" height="1" fill="#000"/>
<rect x="761" y="403" width="3" height="1" fill="#000"/>
<rect x="761" y="436" width="3" height="1" fill="#000"/>
<rect x="761" y="450" width="1" height="1" fill="#000"/>
<rect x="761" y="514" width="3" height="1" fill="#000"/>
<rect x="761" y="582" width="1" height="1" fill="#000"/>
<rect x="3" y="583" width="1" height="3" fill="#000"/>
<rect x="67" y="583" width="1" height="3" fill="#000"/>
<rect x="131" y="583" width="1" height="3" fill="#000"/>
<rect x="195" y="583" width="1" height="3" fill="#000"/>
<rect x="259" y="583" width="1" height="3" fill="#000"/>
<rect x="323" y="583" width="1" height="3" fill="#000"/>
<rect x="387" y="583" width="1" height="3" fill="#000"/>
<rect x="451" y="583" width="1" height="3" fill="#000"/>
<rect x="515" y="583" width="1" height="3" fill="#000"/>
<rect x="579" y="583" width="1" height="3" fill="#000"/>
<rect x="643" y="583" width="1" height="3" fill="#000"/>
<rect x="707" y="583" width="1" height="3" fill="#000"/>
</g>
<text transform="translate(766 7) scale(0.952 1)" xml:space="preserve">1.3690</text>
<text transform="translate(766 40) scale(0.952 1)" xml:space="preserve">1.3675</text>
<text transform="translate(766 73) scale(0.952 1)" xml:space="preserve">1.3660</text>
<text transform="translate(766 107) scale(0.952 1)" xml:space="preserve">1.3645</text>
<text transform="translate(766 140) scale(0.952 1)" xml:space="preserve">1.3630</text>
<text transform="translate(766 173) scale(0.952 1)" xml:space="preserve">1.3615</text>
<text transform="translate(766 207) scale(0.952 1)" xml:space="preserve">1.3600</text>
<text transform="translate(766 240) scale(0.952 1)" xml:space="preserve">1.3585</text>
<text transform="translate(766 273) scale(0.952 1)" xml:space="preserve">1.3570</text>
<text transform="translate(766 306) scale(0.952 1)" xml:space="preserve">1.3555</text>
<text transform="translate(766 339) scale(0.952 1)" xml:space="preserve">1.3540</text>
<text transform="translate(766 373) scale(0.952 1)" xml:space="preserve">1.3525</text>
<text transform="translate(766 406) scale(0.952 1)" xml:space="preserve">1.3510</text>
<text transform="translate(766 439) scale(0.952 1)" xml:space="preserve">1.3495</text>
<text transform="translate(2 595) scale(0.952 1)" xml:space="preserve">5 Jun 2014</text>
<text transform="translate(66 595) scale(0.952 1)" xml:space="preserve">5 Jun 19:00</text>
<text transform="translate(130 595) scale(0.952 1)" xml:space="preserve">6 Jun 11:00</text>
<text transform="translate(194 595) scale(0.952 1)" xml:space="preserve">9 Jun 04:00</text>
<text transform="translate(258 595) scale(0.952 1)" xml:space="preserve">9 Jun 20:00</text>
<text transform="translate(322 595) scale(0.952 1)" xml:space="preserve">10 Jun 12:00</text>
<text transform="translate(386 595) scale(0.952 1)" xml:space="preserve">11 Jun 04:00</text>
<text transform="translate(450 595) scale(0.952 1)" xml:space="preserve">11 Jun 20:00</text>
<text transform="translate(514 595) scale(0.952 1)" xml:space="preserve">12 Jun 12:00</text>
<text transform="translate(578 595) scale(0.952 1)" xml:space="preserve">13 Jun 04:00</text>
<text transform="translate(642 595) scale(0.952 1)" xml:space="preserve">13 Jun 20:00</text>
<text transform="translate(706 595) scale(0.952 1)" xml:space="preserve">16 Jun 13:00</text>
<rect x="762" y="46" width="36" height="11" fill="#f00" shape-rendering="crispEdges"/><text class="w" transform="translate(766 55) scale(0.952 1)" xml:space="preserve">1.3668</text>
<rect x="762" y="193" width="36" height="11" fill="#f00" shape-rendering="crispEdges"/><text class="w" transform="translate(766 202) scale(0.952 1)" xml:space="preserve">1.3602</text>
<rect x="762" y="242" width="36" height="11" fill="#f00" shape-rendering="crispEdges"/><text class="w" transform="translate(766 251) scale(0.952 1)" xml:space="preserve">1.3580</text>
<rect x="762" y="325" width="36" height="11" fill="#f00" shape-rendering="crispEdges"/><text class="w" transform="translate(766 334) scale(0.952 1)" xml:space="preserve">1.3543</text>
<rect x="762" y="414" width="36" height="11" fill="#f00" shape-rendering="crispEdges"/><text class="w" transform="translate(766 423) scale(0.952 1)" xml:space="preserve">1.3502</text>
<rect x="762" y="273" width="36" height="11" fill="#000" shape-rendering="crispEdges"/><text class="w" transform="translate(766 282) scale(0.952 1)" xml:space="preserve">1.3566</text>
<text transform="translate(764 461) scale(0.952 1)" xml:space="preserve">0.00391</text><text transform="translate(764 517) scale(0.952 1)" xml:space="preserve">0.00</text><text transform="translate(764 579) scale(0.952 1)" xml:space="preserve">-0.00424</text>
<path d="M6 9h7l-3.5 4z" fill="#000" shape-rendering="crispEdges"/>
<text transform="translate(19 14) scale(0.952 1)" xml:space="preserve">EURUSD,H1  1.3567 1.3568 1.3565 1.3566</text>
<text transform="translate(7 462.5) scale(0.985 1)" xml:space="preserve">MACD(5,34,5)</text><text transform="translate(70 462.5) scale(0.952 1)" xml:space="preserve">0.00167 0.00162</text>
<text transform="translate(7 579) scale(0.98 1)" xml:space="preserve">MetaTrader, © 2001-2014, MetaQuotes Software Corp.</text>
</svg></body></html>
